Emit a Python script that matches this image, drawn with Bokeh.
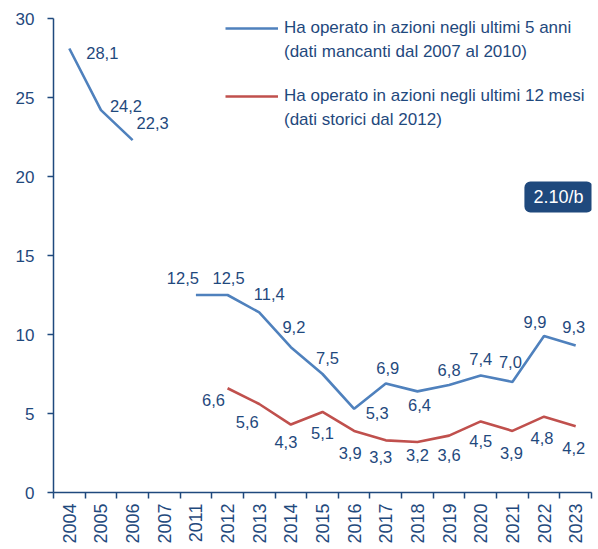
import math
from bokeh.plotting import figure
from bokeh.models import (Range1d, FixedTicker, ColumnDataSource, Legend, LegendItem,
                          BoxAnnotation, Label)
from bokeh.core.properties import value
from bokeh.embed import file_html
from bokeh.resources import INLINE

# ---- data ----
years = ["2004", "2005", "2006", "2007", "2011", "2012", "2013", "2014", "2015",
         "2016", "2017", "2018", "2019", "2020", "2021", "2022", "2023"]
azioni_5_anni = [28.1, 24.2, 22.3, None, 12.5, 12.5, 11.4, 9.2, 7.5, 5.3, 6.9, 6.4,
                 6.8, 7.4, 7.0, 9.9, 9.3]
azioni_12_mesi = [None, None, None, None, None, 6.6, 5.6, 4.3, 5.1, 3.9, 3.3, 3.2,
                  3.6, 4.5, 3.9, 4.8, 4.2]
y_ticks = [0, 5, 10, 15, 20, 25, 30]
legend_5_anni = ["Ha operato in azioni negli ultimi 5 anni", "(dati mancanti dal 2007 al 2010)"]
legend_12_mesi = ["Ha operato in azioni negli ultimi 12 mesi", "(dati storici dal 2012)"]
badge_text = "2.10/b"

# ---- label placement (pixel offsets of value labels) ----
blue_dx = [33, 25, 20, 0, -13, 1, 10, 3, 5, 23, 2, 2, 0, 0, -2, -9, -2]
blue_dy = [4, -4, -17, 0, -17, -17, -18, -20, -16, 4, -15, 14, -15, -17, -20, -14, -19]
red_dx = [0, 0, 0, 0, 0, -14, -12, -5, 0, -4, -5, 0, 0, 0, -1, -2, -2]
red_dy = [0, 0, 0, 0, 0, 12, 18, 17, 21, 22, 17, 13, 19, 20, 22, 21, 22]

NAVY = "#1F497D"
BLUE = "#4F81BD"
RED = "#C0504D"
FONT = "Liberation Sans"

n = len(years)
xc = [i + 0.5 for i in range(n)]

p = figure(width=596, height=547, output_backend="svg", toolbar_location=None,
           x_range=Range1d(0, n), y_range=Range1d(0, 30),
           min_border_left=53, min_border_right=5, min_border_top=18, min_border_bottom=55)
p.outline_line_color = None
p.grid.visible = False
p.background_fill_color = "white"

def nanify(vals):
    return [float("nan") if v is None else v for v in vals]

blue_r = p.line(xc, nanify(azioni_5_anni), line_color=BLUE, line_width=2.6)
red_r = p.line(xc, nanify(azioni_12_mesi), line_color=RED, line_width=2.6)

def label_source(vals, dx, dy):
    d = dict(x=[], y=[], t=[], dx=[], dy=[])
    for i, v in enumerate(vals):
        if v is None:
            continue
        d["x"].append(xc[i]); d["y"].append(v)
        d["t"].append(f"{v:.1f}".replace(".", ","))
        d["dx"].append(dx[i]); d["dy"].append(dy[i])
    return ColumnDataSource(d)

for vals, dx, dy in [(azioni_5_anni, blue_dx, blue_dy), (azioni_12_mesi, red_dx, red_dy)]:
    p.text(x="x", y="y", text="t", x_offset="dx", y_offset="dy",
           source=label_source(vals, dx, dy), text_align="center", text_baseline="middle",
           text_font=value(FONT), text_font_size="16.5px", text_color=NAVY)

# x axis: labels at category centres, ticks at boundaries
xa = p.xaxis[0]
xa.ticker = FixedTicker(ticks=xc, minor_ticks=list(range(n + 1)))
xa.major_label_overrides = {xc[i]: years[i] for i in range(n)}
xa.major_tick_line_color = None
xa.major_tick_out = 6
xa.major_tick_in = 0
xa.minor_tick_line_color = NAVY
xa.minor_tick_line_width = 1.5
xa.minor_tick_out = 6
xa.minor_tick_in = 0
xa.major_label_orientation = math.pi / 2
xa.major_label_standoff = 5
xa.major_label_text_font = FONT
xa.major_label_text_font_size = "18px"
xa.major_label_text_color = NAVY
xa.axis_line_color = NAVY
xa.axis_line_width = 1.5

ya = p.yaxis[0]
ya.ticker = FixedTicker(ticks=y_ticks)
ya.minor_tick_line_color = None
ya.major_tick_line_color = NAVY
ya.major_tick_line_width = 1.5
ya.major_tick_out = 6
ya.major_tick_in = 0
ya.major_label_standoff = 13
ya.major_label_text_font = FONT
ya.major_label_text_font_size = "17px"
ya.major_label_text_color = NAVY
ya.axis_line_color = NAVY
ya.axis_line_width = 1.5

# legends (two lines per entry)
def make_legend(renderer, lines, loc):
    dummy = p.line([float("nan")], [float("nan")], line_alpha=0)
    items = [LegendItem(label=lines[0], renderers=[renderer]),
             LegendItem(label=lines[1], renderers=[dummy])]
    lg = Legend(items=items, location=loc, orientation="vertical",
                glyph_width=53, glyph_height=24, label_height=24, label_standoff=6,
                spacing=0, padding=0, margin=0, border_line_alpha=0,
                background_fill_alpha=0, label_text_font=FONT,
                label_text_font_size="17px", label_text_color=NAVY,
                label_text_baseline="middle")
    p.add_layout(lg, "center")

make_legend(blue_r, legend_5_anni, (172, 428))
make_legend(red_r, legend_12_mesi, (172, 360))

# badge
p.add_layout(BoxAnnotation(left=14.88, right=17.04, bottom=17.72, top=19.68,
                           fill_color=NAVY, fill_alpha=1, line_color=None, border_radius=6))
p.add_layout(Label(x=15.96, y=18.7, text=badge_text, text_align="center",
                   text_baseline="middle", text_color="white", text_font=FONT,
                   text_font_size="18px"))

open("out.html", "w").write(file_html(p, INLINE))
